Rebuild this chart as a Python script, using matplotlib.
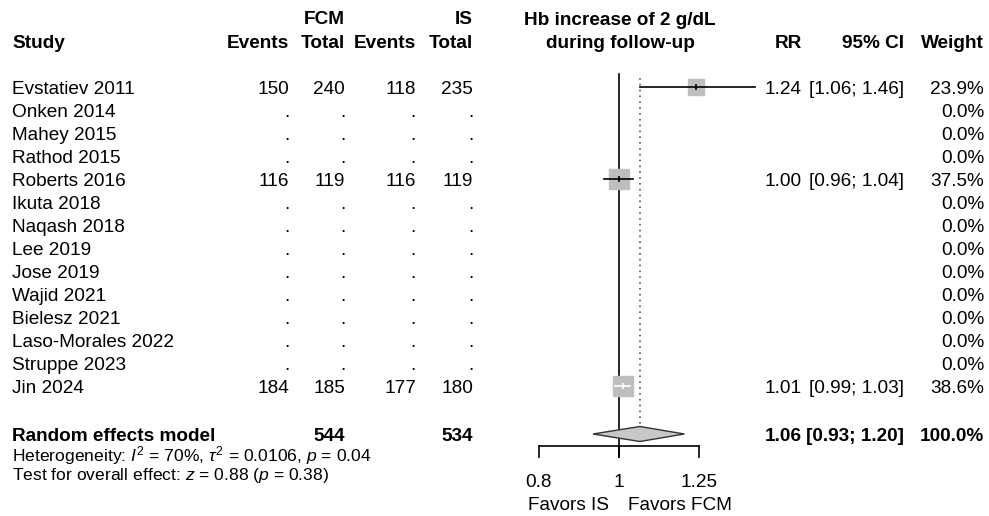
import numpy as np
import matplotlib
matplotlib.use("Agg")
import matplotlib.pyplot as plt
from matplotlib.patches import Polygon

plt.rcParams["font.family"] = ["Liberation Sans", "DejaVu Sans"]
plt.rcParams["mathtext.fontset"] = "custom"
plt.rcParams["mathtext.rm"] = "Liberation Sans"
plt.rcParams["mathtext.it"] = "Liberation Sans:italic"

# data
studies = ["Evstatiev 2011", "Onken 2014", "Mahey 2015", "Rathod 2015", "Roberts 2016",
           "Ikuta 2018", "Naqash 2018", "Lee 2019", "Jose 2019", "Wajid 2021",
           "Bielesz 2021", "Laso-Morales 2022", "Struppe 2023", "Jin 2024"]
fcm_events = [150, None, None, None, 116, None, None, None, None, None, None, None, None, 184]
fcm_total = [240, None, None, None, 119, None, None, None, None, None, None, None, None, 185]
is_events = [118, None, None, None, 116, None, None, None, None, None, None, None, None, 177]
is_total = [235, None, None, None, 119, None, None, None, None, None, None, None, None, 180]
rr = [1.24, None, None, None, 1.00, None, None, None, None, None, None, None, None, 1.01]
ci_low = [1.06, None, None, None, 0.96, None, None, None, None, None, None, None, None, 0.99]
ci_high = [1.46, None, None, None, 1.04, None, None, None, None, None, None, None, None, 1.03]
weights = [23.9, 0.0, 0.0, 0.0, 37.5, 0.0, 0.0, 0.0, 0.0, 0.0, 0.0, 0.0, 0.0, 38.6]

pooled_rr, pooled_low, pooled_high = 1.06, 0.93, 1.20
pooled_fcm_total, pooled_is_total = 544, 534
axis_ticks = [0.8, 1, 1.25]
axis_ticklabels = ["0.8", "1", "1.25"]

W, H = 989, 516
fig = plt.figure(figsize=(W / 100, H / 100), dpi=100)

# text layer in pixel coordinates
tax = fig.add_axes([0, 0, 1, 1])
tax.set_xlim(0, W)
tax.set_ylim(H, 0)
tax.axis("off")

# forest layer: log scale, 1 at x=619px, 80px per log(1.25)
px_per = 80 / np.log(1.25)
fax = fig.add_axes([0, 0, 1, 1], facecolor="none")
fax.set_xscale("log")
fax.set_xlim(np.exp(-619 / px_per), np.exp((W - 619) / px_per))
fax.set_ylim(H, 0)
fax.axis("off")

fs = 13.7
fs_small = 12.6
row0, step = 87, 23
rows = [row0 + step * i for i in range(len(studies))]
y_sum = 434
base = 7  # baseline offset from row centre

col_study = 12
col_fe, col_ft, col_ie, col_it = 289, 345, 416, 473
col_rr, col_ci, col_w = 802, 904, 984

# header
hdr = dict(fontsize=fs, fontweight="bold", va="baseline")
tax.text(col_ft, 24, "FCM", ha="right", **hdr)
tax.text(col_it, 24, "IS", ha="right", **hdr)
tax.text(col_study, 48, "Study", ha="left", **hdr)
for x, s in [(col_fe, "Events"), (col_ft, "Total"), (col_ie, "Events"), (col_it, "Total"),
             (col_rr, "RR"), (col_ci, "95% CI"), (col_w, "Weight")]:
    tax.text(x, 48, s, ha="right", **hdr)
tax.text(620, 25, "Hb increase of 2 g/dL", ha="center", **hdr)
tax.text(620, 48, "during follow-up", ha="center", **hdr)

def fmt(v):
    return "." if v is None else str(v)

for i, y in enumerate(rows):
    yb = y + base
    tax.text(col_study, yb, studies[i], fontsize=fs, ha="left", va="baseline")
    for x, v in [(col_fe, fcm_events[i]), (col_ft, fcm_total[i]),
                 (col_ie, is_events[i]), (col_it, is_total[i])]:
        tax.text(x, yb, fmt(v), fontsize=fs, ha="right", va="baseline")
    if rr[i] is not None:
        tax.text(col_rr, yb, f"{rr[i]:.2f}", fontsize=fs, ha="right", va="baseline")
        tax.text(col_ci, yb, f"[{ci_low[i]:.2f}; {ci_high[i]:.2f}]", fontsize=fs,
                 ha="right", va="baseline")
    tax.text(col_w, yb, f"{weights[i]:.1f}%", fontsize=fs, ha="right", va="baseline")

# summary row
yb = y_sum + 7
sb = dict(fontsize=fs, fontweight="bold", va="baseline")
tax.text(col_study, yb, "Random effects model", ha="left", **sb)
tax.text(col_ft, yb, str(pooled_fcm_total), ha="right", **sb)
tax.text(col_it, yb, str(pooled_is_total), ha="right", **sb)
tax.text(col_rr, yb, f"{pooled_rr:.2f}", ha="right", **sb)
tax.text(col_ci, yb, f"[{pooled_low:.2f}; {pooled_high:.2f}]", ha="right", **sb)
tax.text(col_w, yb, "100.0%", ha="right", **sb)

tax.text(col_study, 461, r"Heterogeneity: $I^2$ = 70%, $\tau^2$ = 0.0106, $p$ = 0.04",
         fontsize=fs_small, ha="left", va="baseline")
tax.text(col_study, 480, r"Test for overall effect: $z$ = 0.88 ($p$ = 0.38)",
         fontsize=fs_small, ha="left", va="baseline")

# forest plot
axis_y, tick_len = 446, 11
fax.plot([1, 1], [74, axis_y + tick_len], color="black", lw=1.2)
fax.plot([pooled_rr, pooled_rr], [78, y_sum - 7], color="#555555", lw=1.2,
         linestyle=(0, (1, 2.5)))

ms_k = 2.32
for i, y in enumerate(rows):
    if rr[i] is None:
        continue
    ms = ms_k * np.sqrt(weights[i])
    half_px = ms * 100 / 72 / 2
    inside = (np.log(rr[i]) - np.log(ci_low[i])) * px_per < half_px and \
             (np.log(ci_high[i]) - np.log(rr[i])) * px_per < half_px
    fax.plot(rr[i], y, marker="s", ms=ms, color="#bebebe", mec="#bebebe", zorder=3)
    lc = "white" if inside else "black"
    fax.plot([ci_low[i], ci_high[i]], [y, y], color=lc, lw=1.2, zorder=4)
    fax.plot(rr[i], y, marker="|", ms=4, mew=1.2, color=lc, zorder=5)

diamond = Polygon([(pooled_low, y_sum), (pooled_rr, y_sum - 7.5),
                   (pooled_high, y_sum), (pooled_rr, y_sum + 7.5)],
                  closed=True, facecolor="#c8c8c8", edgecolor="#333333", lw=1.0, zorder=3)
fax.add_patch(diamond)

fax.plot([axis_ticks[0], axis_ticks[-1]], [axis_y, axis_y], color="black", lw=1.2)
for t, lab in zip(axis_ticks, axis_ticklabels):
    fax.plot([t, t], [axis_y, axis_y + tick_len], color="black", lw=1.2)
    fax.text(t, 487, lab, fontsize=fs, ha="center", va="baseline")

tax.text(568, 510, "Favors IS", fontsize=fs, ha="center", va="baseline")
tax.text(680, 510, "Favors FCM", fontsize=fs, ha="center", va="baseline")

fig.savefig("out.png", dpi=100)
